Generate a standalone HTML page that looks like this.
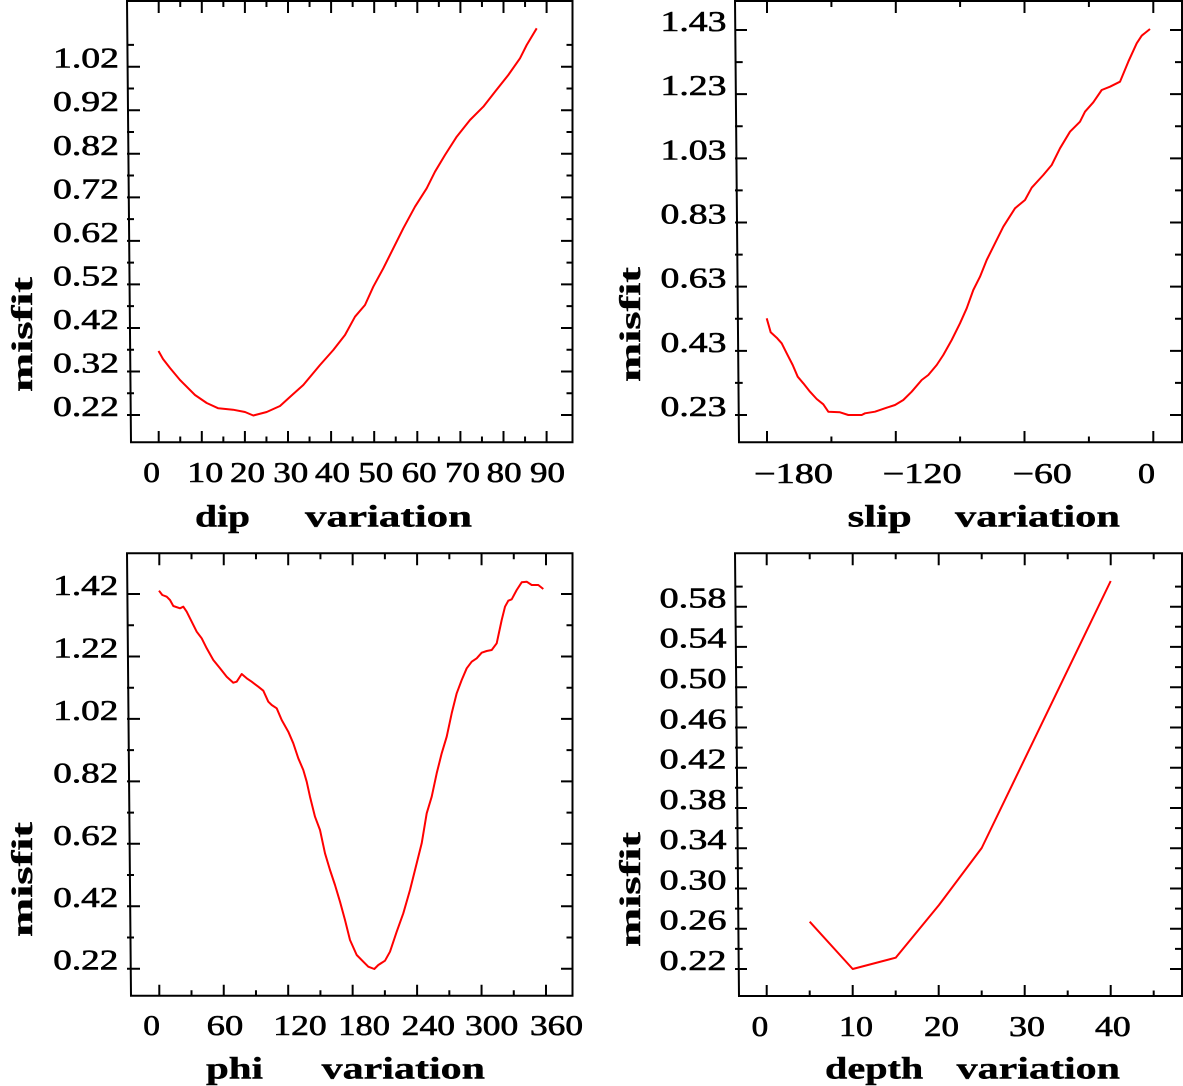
<!DOCTYPE html>
<html><head><meta charset="utf-8"><style>
html,body{margin:0;padding:0;background:#fff;}
svg{display:block;}
text{font-family:"Liberation Serif",serif;fill:#000;}
.n{font-size:28.5px;stroke:#000;stroke-width:0.6px;}
.t{font-size:31px;font-weight:bold;stroke:#000;stroke-width:0.4px;}
.m{font-size:30px;font-weight:bold;stroke:#000;stroke-width:0.4px;}
</style></head><body>
<svg width="1183" height="1086" viewBox="0 0 1183 1086" xmlns="http://www.w3.org/2000/svg">
<g fill="none" stroke="#000" stroke-width="2">
<!-- TL frame -->
<path d="M127 1H573 M572.5 0V443.3 M130 442.3H573.5 M127 0L131 443.3"/>
<path d="M158.7 1V13M180.25 1V7M201.8 1V13M223.35 1V7M244.9 1V13M266.45 1V7M288 1V13M309.55 1V7M331.1 1V13M352.65 1V7M374.2 1V13M395.75 1V7M417.3 1V13M438.85 1V7M460.4 1V13M481.95 1V7M503.5 1V13M525.05 1V7M546.6 1V13"/>
<path d="M158.7 442V431M180.25 442V436.5M201.8 442V431M223.35 442V436.5M244.9 442V431M266.45 442V436.5M288 442V431M309.55 442V436.5M331.1 442V431M352.65 442V436.5M374.2 442V431M395.75 442V436.5M417.3 442V431M438.85 442V436.5M460.4 442V431M481.95 442V436.5M503.5 442V431M525.05 442V436.5M546.6 442V431"/>
<path d="M127 44.93H134M127 66.7H140M127 88.47H134M127 110.24H140M127 132.01H134M127 153.78H140M127 175.55H134M127 197.32H140M127 219.09H134M127 240.86H140M127 262.63H134M127 284.4H140M127 306.17H134M127 327.94H140M127 349.71H134M127 371.48H140M127 393.25H134M127 415.02H140"/>
<path d="M572 44.93H566.5M572 66.7H561M572 88.47H566.5M572 110.24H561M572 132.01H566.5M572 153.78H561M572 175.55H566.5M572 197.32H561M572 219.09H566.5M572 240.86H561M572 262.63H566.5M572 284.4H561M572 306.17H566.5M572 327.94H561M572 349.71H566.5M572 371.48H561M572 393.25H566.5M572 415.02H561"/>
<!-- TR frame -->
<path d="M735 1H1183 M1182 0V443.3 M738 442.3H1183 M735 0L739 443.3"/>
<path d="M767 1V13M831.4 1V7M895.8 1V13M960.1 1V7M1024.5 1V13M1088.9 1V7M1153.3 1V13"/>
<path d="M767 442V431M831.4 442V436.5M895.8 442V431M960.1 442V436.5M1024.5 442V431M1088.9 442V436.5M1153.3 442V431"/>
<path d="M735 30H747M735 62.08H742.7M735 94.17H747M735 126.25H742.7M735 158.33H747M735 190.42H742.7M735 222.5H747M735 254.58H742.7M735 286.67H747M735 318.75H742.7M735 350.83H747M735 382.92H742.7M735 415H747"/>
<path d="M1182 30H1170M1182 62.08H1175M1182 94.17H1170M1182 126.25H1175M1182 158.33H1170M1182 190.42H1175M1182 222.5H1170M1182 254.58H1175M1182 286.67H1170M1182 318.75H1175M1182 350.83H1170M1182 382.92H1175M1182 415H1170"/>
<!-- BL frame -->
<path d="M127 553.3H573 M572.5 552.3V996.7 M130 995.7H573.5 M127 552.3L131 996.7"/>
<path d="M159.3 553.3V565.3M191.5 553.3V559.3M223.75 553.3V565.3M255.98 553.3V559.3M288.2 553.3V565.3M320.43 553.3V559.3M352.65 553.3V565.3M384.88 553.3V559.3M417.1 553.3V565.3M449.33 553.3V559.3M481.55 553.3V565.3M513.78 553.3V559.3M546 553.3V565.3"/>
<path d="M159.3 995.7V984.7M191.5 995.7V990.2M223.75 995.7V984.7M255.98 995.7V990.2M288.2 995.7V984.7M320.43 995.7V990.2M352.65 995.7V984.7M384.88 995.7V990.2M417.1 995.7V984.7M449.33 995.7V990.2M481.55 995.7V984.7M513.78 995.7V990.2M546 995.7V984.7"/>
<path d="M127 594H140M127 625.2H134M127 656.45H140M127 687.7H134M127 718.9H140M127 750.1H134M127 781.35H140M127 812.6H134M127 843.8H140M127 875H134M127 906.25H140M127 937.5H134M127 968.7H140"/>
<path d="M572 594H561M572 625.2H566.5M572 656.45H561M572 687.7H566.5M572 718.9H561M572 750.1H566.5M572 781.35H561M572 812.6H566.5M572 843.8H561M572 875H566.5M572 906.25H561M572 937.5H566.5M572 968.7H561"/>
<!-- BR frame -->
<path d="M735 553.3H1183 M1182 552.3V997 M738 996H1183 M735 552.3L739 997"/>
<path d="M766.7 553.3V565.3M809.7 553.3V559.3M852.7 553.3V565.3M895.7 553.3V559.3M938.7 553.3V565.3M981.7 553.3V559.3M1024.7 553.3V565.3M1067.7 553.3V559.3M1110.7 553.3V565.3M1153.7 553.3V559.3"/>
<path d="M766.7 996V985M809.7 996V990.5M852.7 996V985M895.7 996V990.5M938.7 996V985M981.7 996V990.5M1024.7 996V985M1067.7 996V990.5M1110.7 996V985M1153.7 996V990.5"/>
<path d="M735 586.6H742.7M735 606.7H747M735 626.8H742.7M735 646.9H747M735 667.1H742.7M735 687.2H747M735 707.3H742.7M735 727.5H747M735 747.6H742.7M735 767.7H747M735 787.8H742.7M735 808H747M735 828.1H742.7M735 848.2H747M735 868.3H742.7M735 888.5H747M735 908.6H742.7M735 928.7H747M735 948.9H742.7M735 969H747"/>
<path d="M1182 586.6H1175M1182 606.7H1170M1182 626.8H1175M1182 646.9H1170M1182 667.1H1175M1182 687.2H1170M1182 707.3H1175M1182 727.5H1170M1182 747.6H1175M1182 767.7H1170M1182 787.8H1175M1182 808H1170M1182 828.1H1175M1182 848.2H1170M1182 868.3H1175M1182 888.5H1170M1182 908.6H1175M1182 928.7H1170M1182 948.9H1175M1182 969H1170"/>
</g>

<g fill="none" stroke="#ff0000" stroke-width="2" stroke-linejoin="round">
<polyline points="158.5,351 163,359 170,368 180,380 195,395 206.7,403 218.3,408.3 233,409.7 245,412 253.3,415.5 266.7,412 280,406 291,396 303.3,385 320,365 333.3,350 345,335 355,316.7 365,305 373.3,286.7 383.3,268.3 393.3,248.3 403.3,228.3 415,206.7 426.7,188.3 435,171.7 445,155 456.7,136.7 470,120 483.3,106.7 495,91.7 508.3,75 520,58.3 526.7,45 536.7,28.3"/>
<polyline points="766.7,318.3 770.7,332.3 776.7,337.7 781.7,343.3 786.7,353.3 792.7,365 797.7,376.7 803.3,383.3 810,391.7 816.7,399 823.3,404.3 828.3,411.7 840,412.3 848.3,415 861.7,415 865,413.3 875,411.7 886.7,407.7 895,405 903.3,400 911.7,391.7 921.7,380 928.3,375 936.7,365 943.3,355 951.7,340 960,323.3 966.7,308.3 973.3,290 980,276.7 986.7,260 995,243.3 1003.3,226.7 1015,208.3 1025,200 1031.7,187.7 1043.3,175 1051.7,165 1060,148.3 1070,131.7 1080,121.7 1085,111.7 1093.3,102.3 1101.7,90 1110,86.7 1120,81.7 1128.3,61.7 1136.7,43.3 1141.7,35.7 1150,29"/>
<polyline points="159,590.7 162.3,595 166.7,596.7 170,600 173.3,606 180,608.3 183.3,606.7 186.7,611.7 191.7,621.7 196.7,631.7 201.7,638.3 206.7,648.3 213.3,660 220,668.3 226.7,676.7 233.3,682.7 236.7,681.7 241.7,674 246.7,678.3 251.7,681.7 258.3,686.7 263.3,690.7 268.3,701.7 271.7,705 276.7,708.3 281.7,720 288.3,731.7 293.3,743.3 298.3,758.3 303.3,770 306.7,781.7 310,796.7 315,816.7 320,830 325,853.3 330,870 335,885 340,901.7 345,920 350,940 356.7,955 363.3,961.7 368.3,966.7 374.3,969 378.3,965 385,960.7 390,951.7 396.7,931.7 403.3,913.3 410,890 416.7,863.3 421.7,843.3 426.7,813.3 431.7,796.7 436.7,773.3 441.7,753.3 446.7,736.7 451.7,713.3 456.7,693.3 461.7,680 466.7,668.3 471.7,661.7 476.7,658.3 481.7,652.7 486.7,651 491.7,650 496.7,643.3 501.7,620 505,606.7 508.3,600.7 511.7,599.3 516.7,590 521.7,582.3 526.7,581.7 531.7,585 538.3,585 543.3,589"/>
<polyline points="809.7,921.7 852.7,969 895.7,957.7 939,905 981.7,848 1110.7,581"/>
</g>

<!-- y tick labels -->
<g class="n">
<text x="53" y="67.7" textLength="66" lengthAdjust="spacingAndGlyphs">1.02</text>
<text x="53" y="111.2" textLength="66" lengthAdjust="spacingAndGlyphs">0.92</text>
<text x="53" y="154.8" textLength="66" lengthAdjust="spacingAndGlyphs">0.82</text>
<text x="53" y="198.3" textLength="66" lengthAdjust="spacingAndGlyphs">0.72</text>
<text x="53" y="241.9" textLength="66" lengthAdjust="spacingAndGlyphs">0.62</text>
<text x="53" y="285.4" textLength="66" lengthAdjust="spacingAndGlyphs">0.52</text>
<text x="53" y="329" textLength="66" lengthAdjust="spacingAndGlyphs">0.42</text>
<text x="53" y="372.5" textLength="66" lengthAdjust="spacingAndGlyphs">0.32</text>
<text x="53" y="416" textLength="66" lengthAdjust="spacingAndGlyphs">0.22</text>

<text x="660.5" y="31" textLength="66" lengthAdjust="spacingAndGlyphs">1.43</text>
<text x="660.5" y="95.2" textLength="66" lengthAdjust="spacingAndGlyphs">1.23</text>
<text x="660.5" y="159.3" textLength="66" lengthAdjust="spacingAndGlyphs">1.03</text>
<text x="660.5" y="223.5" textLength="66" lengthAdjust="spacingAndGlyphs">0.83</text>
<text x="660.5" y="287.7" textLength="66" lengthAdjust="spacingAndGlyphs">0.63</text>
<text x="660.5" y="351.8" textLength="66" lengthAdjust="spacingAndGlyphs">0.43</text>
<text x="660.5" y="416" textLength="66" lengthAdjust="spacingAndGlyphs">0.23</text>

<text x="53.3" y="595" textLength="65" lengthAdjust="spacingAndGlyphs">1.42</text>
<text x="53.3" y="657.5" textLength="65" lengthAdjust="spacingAndGlyphs">1.22</text>
<text x="53.3" y="720" textLength="65" lengthAdjust="spacingAndGlyphs">1.02</text>
<text x="53.3" y="782.3" textLength="65" lengthAdjust="spacingAndGlyphs">0.82</text>
<text x="53.3" y="844.8" textLength="65" lengthAdjust="spacingAndGlyphs">0.62</text>
<text x="53.3" y="907.2" textLength="65" lengthAdjust="spacingAndGlyphs">0.42</text>
<text x="53.3" y="969.7" textLength="65" lengthAdjust="spacingAndGlyphs">0.22</text>

<text x="659.5" y="607.5" textLength="67" lengthAdjust="spacingAndGlyphs">0.58</text>
<text x="659.5" y="647.7" textLength="67" lengthAdjust="spacingAndGlyphs">0.54</text>
<text x="659.5" y="688" textLength="67" lengthAdjust="spacingAndGlyphs">0.50</text>
<text x="659.5" y="728.3" textLength="67" lengthAdjust="spacingAndGlyphs">0.46</text>
<text x="659.5" y="768.5" textLength="67" lengthAdjust="spacingAndGlyphs">0.42</text>
<text x="659.5" y="808.8" textLength="67" lengthAdjust="spacingAndGlyphs">0.38</text>
<text x="659.5" y="849" textLength="67" lengthAdjust="spacingAndGlyphs">0.34</text>
<text x="659.5" y="889.3" textLength="67" lengthAdjust="spacingAndGlyphs">0.30</text>
<text x="659.5" y="929.5" textLength="67" lengthAdjust="spacingAndGlyphs">0.26</text>
<text x="659.5" y="969.8" textLength="67" lengthAdjust="spacingAndGlyphs">0.22</text>

<!-- x tick labels -->
<text x="143.3" y="482" textLength="16.7" lengthAdjust="spacingAndGlyphs">0</text>
<text x="187.3" y="482" textLength="36" lengthAdjust="spacingAndGlyphs">10</text>
<text x="230" y="482" textLength="35" lengthAdjust="spacingAndGlyphs">20</text>
<text x="273.3" y="482" textLength="35" lengthAdjust="spacingAndGlyphs">30</text>
<text x="315" y="482" textLength="35" lengthAdjust="spacingAndGlyphs">40</text>
<text x="358.3" y="482" textLength="35" lengthAdjust="spacingAndGlyphs">50</text>
<text x="401.7" y="482" textLength="35" lengthAdjust="spacingAndGlyphs">60</text>
<text x="445" y="482" textLength="35" lengthAdjust="spacingAndGlyphs">70</text>
<text x="486.7" y="482" textLength="35" lengthAdjust="spacingAndGlyphs">80</text>
<text x="530" y="482" textLength="35" lengthAdjust="spacingAndGlyphs">90</text>

<text x="754" y="483" textLength="79" lengthAdjust="spacingAndGlyphs">−180</text>
<text x="882.7" y="483" textLength="79" lengthAdjust="spacingAndGlyphs">−120</text>
<text x="1012.7" y="483" textLength="59" lengthAdjust="spacingAndGlyphs">−60</text>
<text x="1138" y="483" textLength="17" lengthAdjust="spacingAndGlyphs">0</text>

<text x="143.3" y="1035" textLength="16.7" lengthAdjust="spacingAndGlyphs">0</text>
<text x="206.7" y="1035" textLength="36.6" lengthAdjust="spacingAndGlyphs">60</text>
<text x="273.3" y="1035" textLength="53.4" lengthAdjust="spacingAndGlyphs">120</text>
<text x="338.3" y="1035" textLength="51.7" lengthAdjust="spacingAndGlyphs">180</text>
<text x="401.7" y="1035" textLength="53.3" lengthAdjust="spacingAndGlyphs">240</text>
<text x="465" y="1035" textLength="53.3" lengthAdjust="spacingAndGlyphs">300</text>
<text x="530" y="1035" textLength="53" lengthAdjust="spacingAndGlyphs">360</text>

<text x="751.7" y="1036" textLength="16.6" lengthAdjust="spacingAndGlyphs">0</text>
<text x="839" y="1036" textLength="34" lengthAdjust="spacingAndGlyphs">10</text>
<text x="924" y="1036" textLength="35" lengthAdjust="spacingAndGlyphs">20</text>
<text x="1009" y="1036" textLength="36" lengthAdjust="spacingAndGlyphs">30</text>
<text x="1095" y="1036" textLength="35.7" lengthAdjust="spacingAndGlyphs">40</text>
</g>

<!-- axis titles -->
<g class="t">
<text x="195" y="526.7" textLength="55" lengthAdjust="spacingAndGlyphs">dip</text>
<text x="305" y="526.7" textLength="167" lengthAdjust="spacingAndGlyphs">variation</text>
<text x="847.7" y="526.7" textLength="64" lengthAdjust="spacingAndGlyphs">slip</text>
<text x="955" y="526.7" textLength="165" lengthAdjust="spacingAndGlyphs">variation</text>
<text x="206" y="1078.3" textLength="57" lengthAdjust="spacingAndGlyphs">phi</text>
<text x="321.7" y="1078.3" textLength="163.3" lengthAdjust="spacingAndGlyphs">variation</text>
<text x="825" y="1078.3" textLength="98.3" lengthAdjust="spacingAndGlyphs">depth</text>
<text x="956.7" y="1078.3" textLength="163.3" lengthAdjust="spacingAndGlyphs">variation</text>
</g>
<g class="m">
<text transform="translate(32,392) rotate(-90)" textLength="115" lengthAdjust="spacingAndGlyphs">misfit</text>
<text transform="translate(640,382) rotate(-90)" textLength="115" lengthAdjust="spacingAndGlyphs">misfit</text>
<text transform="translate(32,937) rotate(-90)" textLength="115" lengthAdjust="spacingAndGlyphs">misfit</text>
<text transform="translate(640,947) rotate(-90)" textLength="115" lengthAdjust="spacingAndGlyphs">misfit</text>
</g>
</svg>
</body></html>
